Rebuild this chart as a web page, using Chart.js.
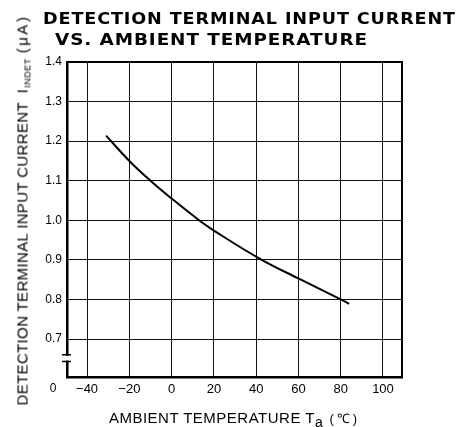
<!DOCTYPE html>
<html>
<head>
<meta charset="utf-8">
<script src="https://cdn.jsdelivr.net/npm/chart.js@4.4.1/dist/chart.umd.min.js"></script>
<style>
html,body{margin:0;padding:0;background:#fff;}
#wrap{position:relative;width:469px;height:427px;overflow:hidden;background:#fff;}
#c{position:absolute;left:0;top:0;}
.t{position:absolute;white-space:nowrap;color:#000;}
.title{font-family:"DejaVu Sans",sans-serif;font-weight:bold;font-size:16px;line-height:18px;transform-origin:0 50%;letter-spacing:0.8px;}
.xt{left:0;width:469px;text-align:center;top:409px;font-family:"Liberation Sans",Arial,sans-serif;font-size:15px;line-height:17px;letter-spacing:0.5px;}
.yt{left:21.5px;top:396.5px;transform-origin:0 50%;transform:rotate(-90deg);font-family:"Liberation Sans",Arial,sans-serif;font-size:15px;line-height:17px;letter-spacing:0.35px;}
sub{line-height:0;}
.xt sub{font-size:14px;vertical-align:-4px;letter-spacing:0;}
.yt sub{font-size:9px;vertical-align:-3px;margin-left:1px;letter-spacing:0.5px;}
.unit{font-size:13px;letter-spacing:3px;margin-left:2px;}
.yunit{letter-spacing:2.5px;margin-left:5px;}
</style>
</head>
<body>
<div id="wrap">
<canvas id="c" width="469" height="427"></canvas>
<div class="t title" id="t1" style="left:43px;top:9.8px;">DETECTION TERMINAL INPUT CURRENT</div>
<div class="t title" id="t2" style="left:55px;top:31px;">VS. AMBIENT TEMPERATURE</div>
<div class="t xt">AMBIENT TEMPERATURE T<sub>a</sub> <span class="unit">(℃)</span></div>
<div class="t yt">DETECTION TERMINAL INPUT CURRENT &nbsp;I<sub>INDET</sub><span class="yunit">(μA)</span></div>
</div>
<script>
// ---- data ----
const temperatures = [-31, -20, -10, 0, 13, 20, 42, 60, 80, 84];
const inputCurrent = [1.214, 1.150, 1.100, 1.055, 1.0, 0.974, 0.902, 0.853, 0.8, 0.789];
const xTickValues = [-40, -20, 0, 20, 40, 60, 80, 100];
const yTickValues = [0.7, 0.8, 0.9, 1.0, 1.1, 1.2, 1.3, 1.4];
const yBreakLabel = '0';
const xRange = [-49.5, 109];
const yRange = [0.604, 1.4];
const yBreakValues = [0.66, 0.643];

// stretch title lines horizontally to the reference widths
function fit(id, target){
  const el = document.getElementById(id);
  const w = el.getBoundingClientRect().width;
  el.style.transform = 'scaleX(' + (target / w) + ')';
}
fit('t1', 413);
fit('t2', 313);

const framePlugin = {
  id: 'frame',
  afterDatasetsDraw(chart){
    const {ctx, chartArea: a, scales: {y}} = chart;
    ctx.save();
    ctx.strokeStyle = '#000';
    ctx.lineWidth = 2;
    ctx.beginPath();
    ctx.moveTo(a.left, a.top);
    ctx.lineTo(a.right, a.top);
    ctx.lineTo(a.right, a.bottom);
    ctx.stroke();
    // axis break mark
    const y1 = y.getPixelForValue(yBreakValues[0]);
    const y2 = y.getPixelForValue(yBreakValues[1]);
    ctx.fillStyle = '#fff';
    ctx.fillRect(a.left - 3, y1 + 1, 6, y2 - y1 - 2);
    ctx.lineWidth = 1.5;
    ctx.beginPath();
    ctx.moveTo(a.left - 5, y1); ctx.lineTo(a.left + 4, y1);
    ctx.moveTo(a.left - 5, y2); ctx.lineTo(a.left + 4, y2);
    ctx.stroke();
    // "0" label below the break
    ctx.fillStyle = '#000';
    ctx.font = '12px "Liberation Sans", Arial, sans-serif';
    ctx.textAlign = 'center';
    ctx.textBaseline = 'middle';
    ctx.fillText(yBreakLabel, a.left - 14, a.bottom + 12);
    ctx.restore();
  }
};

new Chart(document.getElementById('c'), {
  type: 'line',
  data: {
    datasets: [{
      data: temperatures.map((t, i) => ({x: t, y: inputCurrent[i]})),
      borderColor: '#000',
      borderWidth: 2,
      pointRadius: 0,
      fill: false,
      tension: 0.4
    }]
  },
  options: {
    responsive: false,
    animation: false,
    devicePixelRatio: 1,
    layout: {padding: {left: 0, right: 67, top: 62, bottom: 0}},
    plugins: {legend: {display: false}, tooltip: {enabled: false}, title: {display: false}},
    scales: {
      x: {
        type: 'linear',
        min: xRange[0], max: xRange[1],
        afterBuildTicks: s => { s.ticks = xTickValues.map(v => ({value: v})); },
        afterFit: s => { s.height = 50; },
        ticks: {
          autoSkip: false, maxRotation: 0, color: '#000', padding: 5,
          font: {family: '"Liberation Sans", Arial, sans-serif', size: 13},
          callback: v => v < 0 ? '\u2212' + Math.abs(v) : String(v)
        },
        grid: {color: '#111', lineWidth: 1, drawTicks: false},
        border: {color: '#000', width: 2.5}
      },
      y: {
        min: yRange[0], max: yRange[1],
        afterBuildTicks: s => { s.ticks = yTickValues.map(v => ({value: v})); },
        afterFit: s => { s.width = 67; },
        ticks: {
          color: '#000', padding: 5,
          font: {family: '"Liberation Sans", Arial, sans-serif', size: 12},
          callback: v => Number(v).toFixed(1)
        },
        grid: {color: '#111', lineWidth: 1, drawTicks: false},
        border: {color: '#000', width: 2.5}
      }
    }
  },
  plugins: [framePlugin]
});
</script>
</body>
</html>
